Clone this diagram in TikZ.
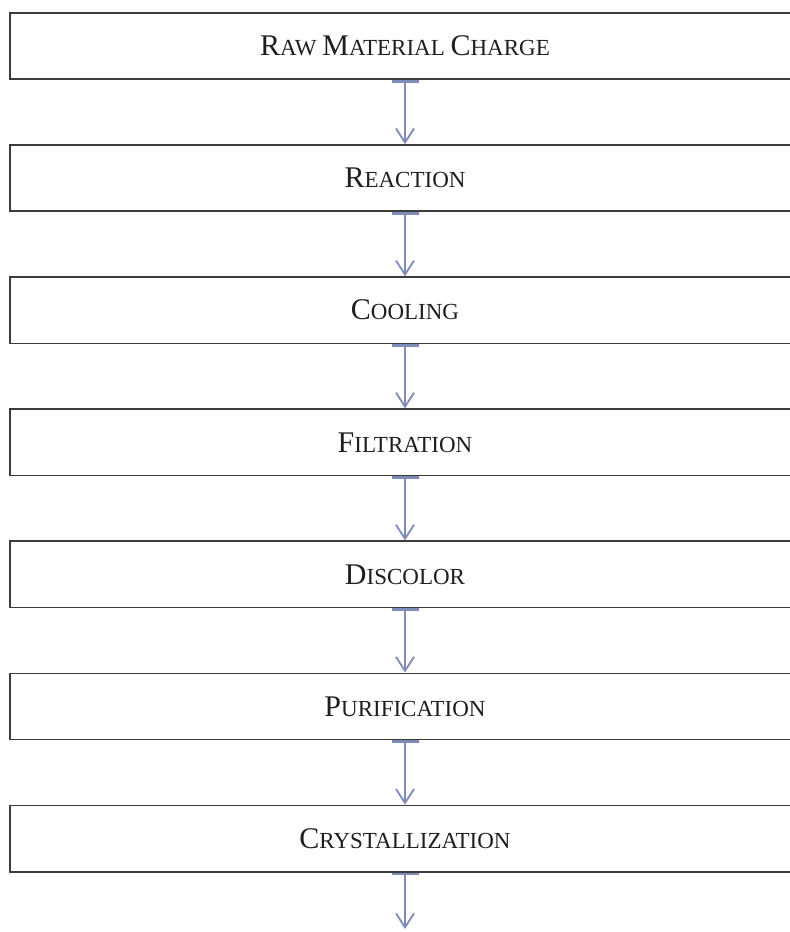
\documentclass[tikz,border=0pt]{standalone}
\usepackage{fontspec}
\setmainfont{Liberation Serif}
\usetikzlibrary{arrows.meta}
\definecolor{boxline}{HTML}{3C3C3C}
\definecolor{arrowc}{HTML}{7F8BB8}
\definecolor{textc}{HTML}{1E1E1E}
\newcommand\capinit[1]{{\fontsize{30}{32}\selectfont #1}}
\tikzset{
  stepbox/.style={draw=boxline, line width=1.6pt, minimum width=790pt, minimum height=66.3pt,
    inner sep=0pt, text=textc, font=\fontsize{23}{25}\selectfont},
  flowarrow/.style={draw=arrowc, line width=1.8pt,
    {Bar[width=27pt,line width=2.6pt]}-{Straight Barb[length=14pt,width=18pt,line width=1.8pt]}}
}
\begin{document}
\begin{tikzpicture}[x=1pt,y=-1pt]
\useasboundingbox (0,0) rectangle (790,932);
\node[stepbox] (b1) at (405,46) {\capinit{R}AW \capinit{M}ATERIAL \capinit{C}HARGE};
\node[stepbox] (b2) at (405,178.1) {\capinit{R}EACTION};
\node[stepbox] (b3) at (405,310.2) {\capinit{C}OOLING};
\node[stepbox] (b4) at (405,442.3) {\capinit{F}ILTRATION};
\node[stepbox] (b5) at (405,574.4) {\capinit{D}ISCOLOR};
\node[stepbox] (b6) at (405,706.5) {\capinit{P}URIFICATION};
\node[stepbox] (b7) at (405,838.6) {\capinit{C}RYSTALLIZATION};
\coordinate (end) at (405,929);
\draw[flowarrow] (b1.south) -- (b2.north);
\draw[flowarrow] (b2.south) -- (b3.north);
\draw[flowarrow] (b3.south) -- (b4.north);
\draw[flowarrow] (b4.south) -- (b5.north);
\draw[flowarrow] (b5.south) -- (b6.north);
\draw[flowarrow] (b6.south) -- (b7.north);
\draw[flowarrow] (b7.south) -- (end);
\end{tikzpicture}
\end{document}
